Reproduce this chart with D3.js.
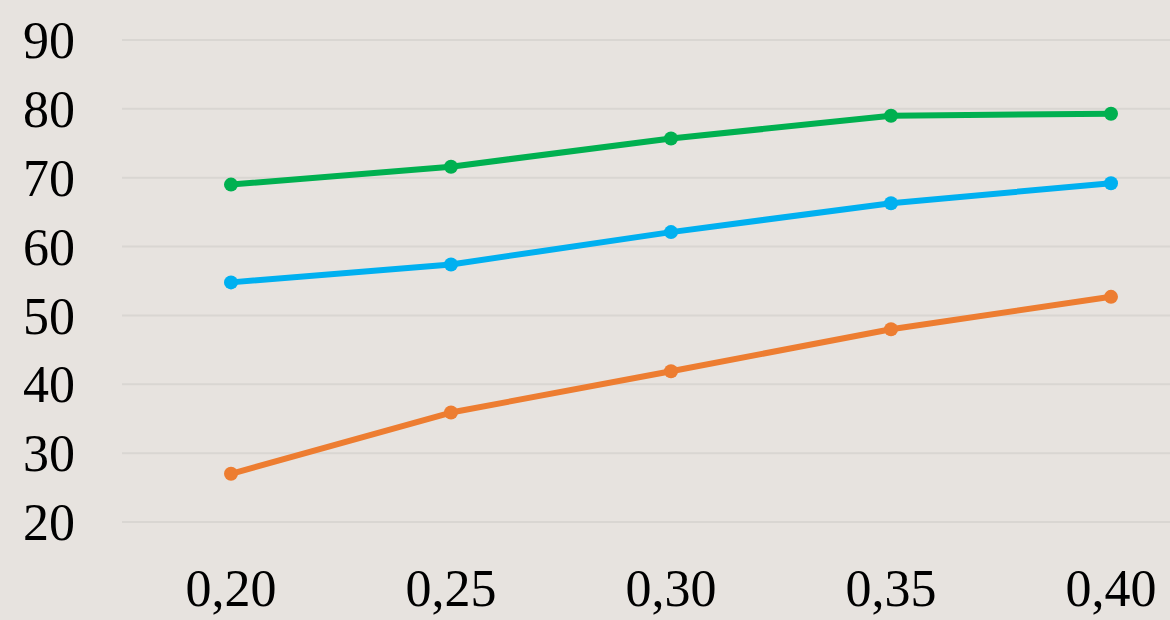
<!DOCTYPE html>
<html>
<head>
<meta charset="utf-8">
<script src="https://cdn.jsdelivr.net/npm/d3@7/dist/d3.min.js"></script>
<style>
  html, body { margin: 0; padding: 0; background: #E7E3DF; }
  svg { display: block; }
</style>
</head>
<body>
<div id="chart"></div>
<script>
// Categories along the x axis
const categories = ["0,20", "0,25", "0,30", "0,35", "0,40"];
// Series values
const greenSeries  = [69.0, 71.6, 75.7, 79.0, 79.3];
const blueSeries   = [54.8, 57.4, 62.1, 66.3, 69.2];
const orangeSeries = [27.0, 35.9, 41.9, 48.0, 52.7];
// Y tick labels
const yTicks = [20, 30, 40, 50, 60, 70, 80, 90];

const series = [
  { name: "green",  values: greenSeries,  color: "#00B050" },
  { name: "blue",   values: blueSeries,   color: "#00B0F0" },
  { name: "orange", values: orangeSeries, color: "#ED7D31" }
];

const W = 1170, H = 620;
const svg = d3.select("#chart").append("svg")
  .attr("width", W).attr("height", H);

svg.append("rect").attr("width", W).attr("height", H).attr("fill", "#E7E3DF");

const x = d3.scaleBand().domain(categories).range([121, 1221]).padding(0);
const xc = d => x(d) + x.bandwidth() / 2;
const y = d3.scaleLinear().domain([20, 90]).range([522, 40]);

// Horizontal gridlines
svg.append("g")
  .selectAll("line").data(yTicks).join("line")
  .attr("x1", 122).attr("x2", W)
  .attr("y1", d => y(d)).attr("y2", d => y(d))
  .attr("stroke", "#D9D6D2").attr("stroke-width", 2);

// Y axis labels
const yAxis = d3.axisLeft(y).tickValues(yTicks).tickSize(0).tickPadding(0);
const gy = svg.append("g").attr("transform", "translate(75,0)").call(yAxis);
gy.select(".domain").remove();
gy.selectAll("text")
  .attr("font-family", "'Liberation Serif', 'Times New Roman', serif")
  .attr("font-size", 52).attr("fill", "#000")
  .attr("dy", "0.34em");

// X axis labels
const xAxis = d3.axisBottom(x).tickSize(0).tickPadding(0);
const gx = svg.append("g").attr("transform", "translate(0,570)").call(xAxis);
gx.select(".domain").remove();
gx.selectAll("text")
  .attr("font-family", "'Liberation Serif', 'Times New Roman', serif")
  .attr("font-size", 52).attr("fill", "#000")
  .attr("dy", "0.7em");

// Lines and markers
const line = d3.line()
  .x((d, i) => xc(categories[i]))
  .y(d => y(d));

series.forEach(s => {
  svg.append("path")
    .datum(s.values)
    .attr("d", line)
    .attr("fill", "none")
    .attr("stroke", s.color)
    .attr("stroke-width", 6)
    .attr("stroke-linejoin", "round");
  svg.append("g").selectAll("circle").data(s.values).join("circle")
    .attr("cx", (d, i) => xc(categories[i]))
    .attr("cy", d => y(d))
    .attr("r", 7)
    .attr("fill", s.color);
});
</script>
</body>
</html>
